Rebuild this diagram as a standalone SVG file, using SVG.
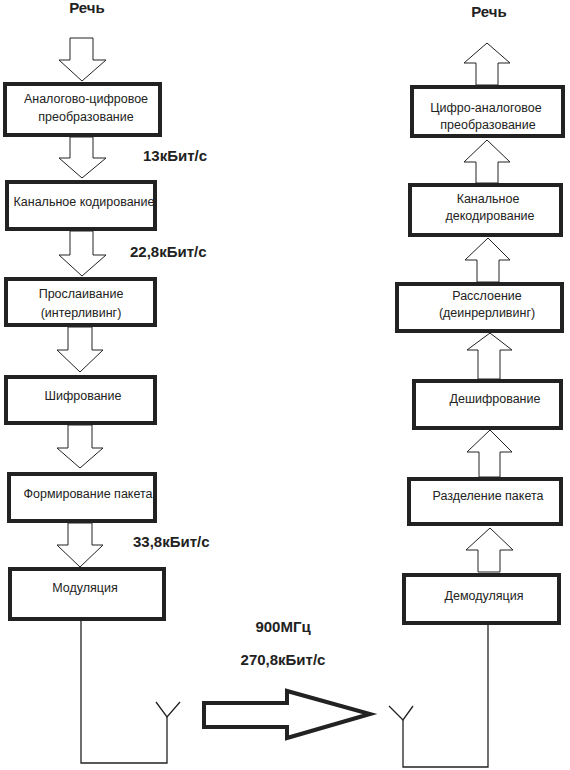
<svg xmlns="http://www.w3.org/2000/svg" width="570" height="770" viewBox="0 0 570 770">
<style>
.box{fill:#fff;stroke:#222;stroke-width:4}
.arr{fill:#fff;stroke:#222;stroke-width:1}
.big{fill:#fff;stroke:#222;stroke-width:4;stroke-linejoin:miter}
.wire{fill:none;stroke:#222;stroke-width:1.3}
.t{font-family:"Liberation Sans",Arial,sans-serif;font-size:12.5px;fill:#222;text-anchor:middle}
.lb{font-family:"Liberation Sans",Arial,sans-serif;font-size:15px;font-weight:bold;fill:#222}
.lbc{font-family:"Liberation Sans",Arial,sans-serif;font-size:15px;font-weight:bold;fill:#222;text-anchor:middle}
</style>
<rect width="570" height="770" fill="#fff"/>
<g id="connectors">
<polygon class="arr" points="70,38 93,38 93,60 106,60 82,81 59,60 70,60"/>
<polygon class="arr" points="70,137 93,137 93,158 106,158 82,178 59,158 70,158"/>
<polygon class="arr" points="70,231 93,231 93,255 106,255 82,276 59,255 70,255"/>
<polygon class="arr" points="68,327 92,327 92,350 103,350 80,372 57,350 68,350"/>
<polygon class="arr" points="68,425 92,425 92,448 103,448 80,468 57,448 68,448"/>
<polygon class="arr" points="68,523 92,523 92,545 103,545 80,567 57,545 68,545"/>
<polygon class="arr" points="476,85 498,85 498,63 510,63 487,43 464,63 476,63"/>
<polygon class="arr" points="476,183 498,183 498,162 510,162 487,140 464,162 476,162"/>
<polygon class="arr" points="477,282 499,282 499,260 510,260 488,238 465,260 477,260"/>
<polygon class="arr" points="478,379 500,379 500,350 512,350 490,333 467,350 478,350"/>
<polygon class="arr" points="479,477 500,477 500,452 512,452 490,430 467,452 479,452"/>
<polygon class="arr" points="478,572 500,572 500,550 513,550 490,528 466,550 478,550"/>
<polyline class="wire" points="81,621 81,763 167,763 167,717"/>
<polyline class="wire" points="156,702 167,717 180,702"/>
<polyline class="wire" points="488,625 488,767 403,767 403,720"/>
<polyline class="wire" points="389,706 403,720 413,706"/>
<polygon class="big" points="204,703 287,703 287,691 370,714 287,738 287,727 204,727"/>
</g>
<g id="labels">
<text class="lbc" x="87" y="13">Речь</text>
<text class="lbc" x="489" y="17">Речь</text>
<text class="lb" x="143" y="161">13кБит/с</text>
<text class="lb" x="130" y="257">22,8кБит/с</text>
<text class="lb" x="133" y="547">33,8кБит/с</text>
<text class="lbc" x="283" y="632">900МГц</text>
<text class="lbc" x="283" y="665">270,8кБит/с</text>
</g>
<g id="n1"><rect class="box" x="5" y="84" width="155" height="51"/><text class="t" x="86" y="103">Аналогово-цифровое</text><text class="t" x="86" y="121">преобразование</text></g>
<g id="n2"><rect class="box" x="7" y="182" width="148" height="47"/><text class="t" x="84" y="206">Канальное кодирование</text></g>
<g id="n3"><rect class="box" x="6" y="279" width="149" height="46"/><text class="t" x="81" y="298">Прослаивание</text><text class="t" x="81" y="317">(интерливинг)</text></g>
<g id="n4"><rect class="box" x="6" y="377" width="149" height="46"/><text class="t" x="83" y="400">Шифрование</text></g>
<g id="n5"><rect class="box" x="9" y="474" width="146" height="47"/><text class="t" x="88" y="498">Формирование пакета</text></g>
<g id="n6"><rect class="box" x="10" y="569" width="154" height="50"/><text class="t" x="85" y="592">Модуляция</text></g>
<g id="m1"><rect class="box" x="412" y="87" width="151" height="49"/><text class="t" x="486" y="112">Цифро-аналоговое</text><text class="t" x="488" y="129">преобразование</text></g>
<g id="m2"><rect class="box" x="410" y="185" width="151" height="50"/><text class="t" x="488" y="203">Канальное</text><text class="t" x="490" y="220">декодирование</text></g>
<g id="m3"><rect class="box" x="397" y="284" width="165" height="47"/><text class="t" x="487" y="300">Расслоение</text><text class="t" x="487" y="317">(деинрерливинг)</text></g>
<g id="m4"><rect class="box" x="414" y="381" width="147" height="47"/><text class="t" x="495" y="403">Дешифрование</text></g>
<g id="m5"><rect class="box" x="409" y="479" width="152" height="45"/><text class="t" x="488" y="500">Разделение пакета</text></g>
<g id="m6"><rect class="box" x="404" y="575" width="155" height="48"/><text class="t" x="484" y="600">Демодуляция</text></g>
</svg>
